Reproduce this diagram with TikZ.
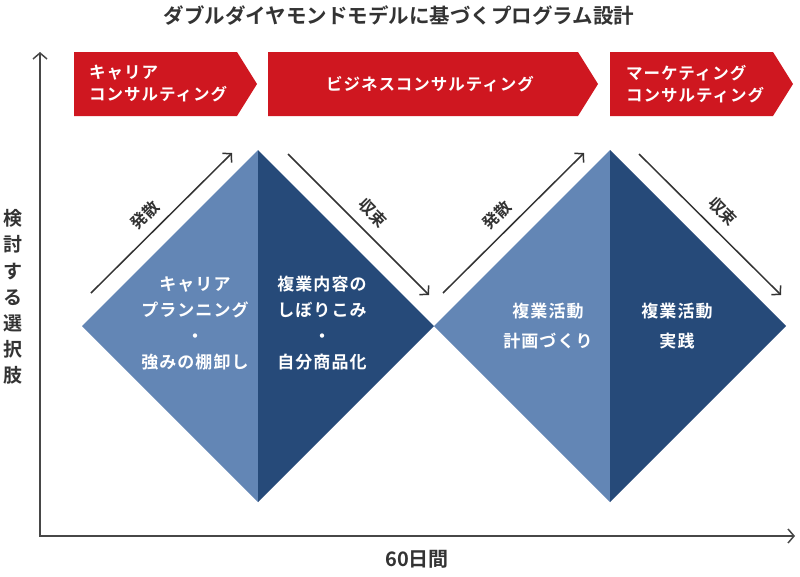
\documentclass[tikz,border=0pt]{standalone}
\usepackage{fontspec}
\setmainfont{Noto Sans CJK JP}[BoldFont={Noto Sans CJK JP Bold}]
\usetikzlibrary{arrows.meta,calc}
\definecolor{bannerred}{HTML}{CF1720}
\definecolor{lightblue}{HTML}{6386B5}
\definecolor{darkblue}{HTML}{264A79}
\definecolor{ink}{HTML}{333333}
\begin{document}
\begin{tikzpicture}[x=1pt,y=-1pt,
  banner/.style={fill=bannerred},
  bantext/.style={text=white,font=\fontsize{16.5}{22}\selectfont\bfseries\addfontfeature{LetterSpace=6},inner sep=0},
  dtext/.style={text=white,font=\fontsize{17}{26}\selectfont\bfseries\addfontfeature{LetterSpace=6},align=center,inner sep=0},
  dtextb/.style={text=white,font=\fontsize{17}{30}\selectfont\bfseries\addfontfeature{LetterSpace=6},align=center,inner sep=0},
  flow/.style={draw=ink,line width=1.5pt,-{Straight Barb[length=6pt,width=13pt,line width=1.5pt]}},
  axis/.style={draw=ink!90,line width=1.6pt},
  lab/.style={text=ink,font=\fontsize{16}{18}\selectfont\bfseries,inner sep=0,sloped},
]
\useasboundingbox (0,0) rectangle (800,576);

% title
\node[text=ink,font=\fontsize{20.5}{24}\selectfont\bfseries,inner sep=0] (title) at (399,16) {ダブルダイヤモンドモデルに基づくプログラム設計};

% axes
\coordinate (ytop) at (40,52);
\coordinate (origin) at (40,536);
\coordinate (xend) at (795,536);
\draw[axis,{Straight Barb[length=6pt,width=14pt,line width=1.5pt]}-{Straight Barb[length=6pt,width=14pt,line width=1.5pt]}] (ytop) -- (origin) -- (xend);
\node[text=ink,font=\fontsize{19}{26.2}\selectfont\bfseries,align=center,inner sep=0] (ylab) at (13,297) {検\\討\\す\\る\\選\\択\\肢};
\node[text=ink,font=\fontsize{20}{24}\selectfont\bfseries,inner sep=0] (xlab) at (417,559) {60日間};

% banners
\fill[banner] (74,52) -- (237,52) -- (257,84) -- (237,116) -- (74,116) -- cycle;
\fill[banner] (268,52) -- (578,52) -- (598,84) -- (578,116) -- (268,116) -- cycle;
\fill[banner] (610,52) -- (773,52) -- (793,84) -- (773,116) -- (610,116) -- cycle;
\node[bantext,anchor=west,align=left] (b1) at (89,84) {キャリア\\コンサルティング};
\node[bantext,align=center] (b2) at (430,84) {ビジネスコンサルティング};
\node[bantext,anchor=west,align=left] (b3) at (626,84) {マーケティング\\コンサルティング};

% diamond 1
\coordinate (d1t) at (258,150);
\coordinate (d1l) at (82,326);
\coordinate (d1b) at (258,502);
\coordinate (d1r) at (434,326);
\fill[lightblue] (d1t) -- (d1l) -- (d1b) -- cycle;
\fill[darkblue] (d1t) -- (d1r) -- (d1b) -- cycle;
% diamond 2
\coordinate (d2t) at (610,150);
\coordinate (d2l) at (434,326);
\coordinate (d2b) at (610,502);
\coordinate (d2r) at (786,326);
\fill[lightblue] (d2t) -- (d2l) -- (d2b) -- cycle;
\fill[darkblue] (d2t) -- (d2r) -- (d2b) -- cycle;

\node[dtext] (t1l) at (195,323) {キャリア\\プランニング\\・\\強みの棚卸し};
\node[dtext] (t1r) at (322,323) {複業内容の\\しぼりこみ\\・\\自分商品化};
\node[dtextb] (t2l) at (548,326) {複業活動\\計画づくり};
\node[dtextb] (t2r) at (677,326) {複業活動\\実践};

% diverge / converge arrows
\coordinate (a1s) at (91,293);  \coordinate (a1e) at (232,153);
\coordinate (a2s) at (288,154); \coordinate (a2e) at (429,295);
\coordinate (a3s) at (443,293); \coordinate (a3e) at (584,153);
\coordinate (a4s) at (639,154); \coordinate (a4e) at (781,295);
\draw[flow] (a1s) -- node[lab,pos=0.47,above=9pt] (l1) {発散} (a1e);
\draw[flow] (a2s) -- node[lab,pos=0.51,above=10pt] (l2) {収束} (a2e);
\draw[flow] (a3s) -- node[lab,pos=0.47,above=9pt] (l3) {発散} (a3e);
\draw[flow] (a4s) -- node[lab,pos=0.5,above=10pt] (l4) {収束} (a4e);
\end{tikzpicture}
\end{document}
